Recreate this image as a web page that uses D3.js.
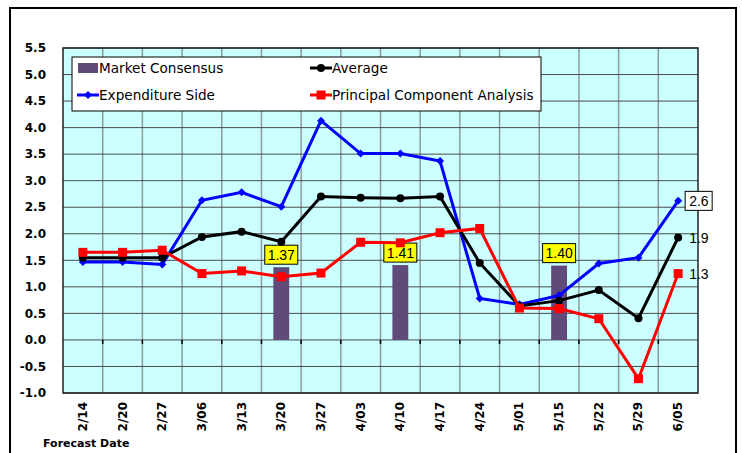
<!DOCTYPE html>
<html>
<head>
<meta charset="utf-8">
<script src="https://cdn.jsdelivr.net/npm/d3@7"></script>
<style>
  body { margin: 0; background: #fff; }
  svg { display: block; font-family: Verdana, "DejaVu Sans", sans-serif; }
</style>
</head>
<body>
<div id="chart"></div>
<script>
let width = 742
let height = 453

// data
let dates = ["2/14", "2/20", "2/27", "3/06", "3/13", "3/20", "3/27", "4/03",
  "4/10", "4/17", "4/24", "5/01", "5/15", "5/22", "5/29", "6/05"]
let expenditure = [1.47, 1.47, 1.42, 2.63, 2.78, 2.51, 4.13, 3.51, 3.51, 3.37, 0.78, 0.67, 0.84, 1.44, 1.55, 2.62]
let average = [1.55, 1.55, 1.55, 1.94, 2.04, 1.85, 2.70, 2.68, 2.67, 2.70, 1.45, 0.64, 0.74, 0.94, 0.41, 1.93]
let pca = [1.65, 1.65, 1.69, 1.25, 1.30, 1.19, 1.26, 1.84, 1.83, 2.02, 2.10, 0.60, 0.59, 0.40, -0.73, 1.25]
let consensus = [
  { date: "3/20", value: 1.37 },
  { date: "4/10", value: 1.41 },
  { date: "5/15", value: 1.40 }
]
let yTicks = [-1.0, -0.5, 0.0, 0.5, 1.0, 1.5, 2.0, 2.5, 3.0, 3.5, 4.0, 4.5, 5.0, 5.5]
let endLabels = ["2.6", "1.9", "1.3"]

let margin = { left: 63, right: 44, top: 48, bottom: 60 }

let svg = d3.select("#chart")
  .append("svg")
  .attr("width", width)
  .attr("height", height)

// outer frame
svg.append("rect")
  .attr("x", 10).attr("y", 8)
  .attr("width", 726).attr("height", 460)
  .attr("fill", "#fff")
  .attr("stroke", "#000")
  .attr("stroke-width", 2)

let x = d3.scaleBand()
  .domain(dates)
  .range([margin.left, width - margin.right])

let y = d3.scaleLinear()
  .domain([-1, 5.5])
  .range([height - margin.bottom, margin.top])

let px = d => x(d) + x.bandwidth() / 2

// plot background
svg.append("rect")
  .attr("x", x.range()[0]).attr("y", y(5.5))
  .attr("width", x.range()[1] - x.range()[0])
  .attr("height", y(-1) - y(5.5))
  .attr("fill", "#ccffff")

// vertical grid at category boundaries
svg.append("g")
  .selectAll("line")
  .data(dates.slice(1))
  .enter()
  .append("line")
    .attr("x1", d => x(d)).attr("x2", d => x(d))
    .attr("y1", y(5.5)).attr("y2", y(-1))
    .attr("stroke", "#8c9c9c")
    .attr("stroke-width", 1.5)

// horizontal grid
svg.append("g")
  .selectAll("line")
  .data(yTicks)
  .enter()
  .append("line")
    .attr("x1", x.range()[0]).attr("x2", x.range()[1])
    .attr("y1", d => y(d)).attr("y2", d => y(d))
    .attr("stroke", "#4a4a4a")
    .attr("stroke-width", 1)

// plot border
svg.append("rect")
  .attr("x", x.range()[0]).attr("y", y(5.5))
  .attr("width", x.range()[1] - x.range()[0])
  .attr("height", y(-1) - y(5.5))
  .attr("fill", "none")
  .attr("stroke", "#222")
  .attr("stroke-width", 1.5)

// small ticks on the zero line
svg.append("g")
  .selectAll("line")
  .data(dates.slice(1))
  .enter()
  .append("line")
    .attr("x1", d => x(d)).attr("x2", d => x(d))
    .attr("y1", y(0)).attr("y2", y(0) + 4)
    .attr("stroke", "#000")
    .attr("stroke-width", 1.5)

// y axis labels
svg.append("g")
  .selectAll("text")
  .data(yTicks)
  .enter()
  .append("text")
    .attr("x", 46)
    .attr("y", d => y(d))
    .attr("dy", "0.35em")
    .attr("text-anchor", "end")
    .style("font-size", "12px")
    .style("font-weight", "bold")
    .text(d => d.toFixed(1))

// x axis labels
svg.append("g")
  .selectAll("text")
  .data(dates)
  .enter()
  .append("text")
    .attr("transform", d => `translate(${px(d) + 4},${y(-1) + 9}) rotate(-90)`)
    .attr("text-anchor", "end")
    .style("font-size", "12px")
    .style("font-weight", "bold")
    .text(d => d)

svg.append("text")
  .attr("x", 43).attr("y", 447)
  .style("font-size", "11px")
  .style("font-weight", "bold")
  .text("Forecast Date")

// consensus bars
let barW = x.bandwidth() * 0.4
svg.append("g")
  .selectAll("rect")
  .data(consensus)
  .enter()
  .append("rect")
    .attr("x", d => px(d.date) - barW / 2)
    .attr("y", d => y(d.value))
    .attr("width", barW)
    .attr("height", d => y(0) - y(d.value))
    .attr("fill", "#5f4a7a")

let barLabels = svg.append("g")
  .selectAll("g")
  .data(consensus)
  .enter()
  .append("g")
    .attr("transform", d => `translate(${px(d.date)},${y(d.value) - 3})`)
barLabels.append("rect")
  .attr("x", -16.5).attr("y", -19)
  .attr("width", 33).attr("height", 19)
  .attr("fill", "#ffff00")
  .attr("stroke", "#000")
  .attr("stroke-width", 1)
barLabels.append("text")
  .attr("y", -4.5)
  .attr("text-anchor", "middle")
  .style("font-family", "'Liberation Sans', Arial, sans-serif")
  .style("font-size", "14px")
  .text(d => d.value.toFixed(2))

// lines
let line = d3.line()
  .x((d, i) => px(dates[i]))
  .y(d => y(d))

let series = [
  { name: "Expenditure Side", values: expenditure, color: "#0000ff", marker: "diamond" },
  { name: "Average", values: average, color: "#000000", marker: "circle" },
  { name: "Principal Component Analysis", values: pca, color: "#ff0000", marker: "square" }
]

function drawMarker(sel, type, color) {
  if (type === "circle") {
    sel.append("circle").attr("r", 4).attr("fill", color)
  } else if (type === "square") {
    sel.append("rect").attr("x", -4.5).attr("y", -4.5).attr("width", 9).attr("height", 9).attr("fill", color)
  } else {
    sel.append("path").attr("d", "M0,-4L4,0L0,4L-4,0Z").attr("fill", color)
  }
}

series.forEach(s => {
  svg.append("path")
    .datum(s.values)
    .attr("d", line)
    .attr("fill", "none")
    .attr("stroke", s.color)
    .attr("stroke-width", 3)
  svg.append("g")
    .selectAll("g")
    .data(s.values)
    .enter()
    .append("g")
      .attr("transform", (d, i) => `translate(${px(dates[i])},${y(d)})`)
      .each(function() { drawMarker(d3.select(this), s.marker, s.color) })
})

// end labels
let last = dates[dates.length - 1]
let endVals = [expenditure[15], average[15], pca[15]]
let ends = svg.append("g")
  .selectAll("g")
  .data(endVals)
  .enter()
  .append("g")
    .attr("transform", d => `translate(${px(last) + 9},${y(d)})`)
ends.filter((d, i) => i === 0)
  .append("rect")
    .attr("x", -2).attr("y", -9.5)
    .attr("width", 27).attr("height", 19)
    .attr("fill", "#fff")
    .attr("stroke", "#000")
ends.append("text")
  .attr("x", 2)
  .attr("dy", "0.36em")
  .style("font-family", "'Liberation Sans', Arial, sans-serif")
  .style("font-size", "14px")
  .text((d, i) => endLabels[i])

// legend
let legend = svg.append("g")
legend.append("rect")
  .attr("x", 72).attr("y", 57)
  .attr("width", 469).attr("height", 54)
  .attr("fill", "#fff")
  .attr("stroke", "#000")

let legendItems = [
  { name: "Market Consensus", type: "bar", color: "#5f4a7a", lx: 77, ly: 68 },
  { name: "Average", type: "circle", color: "#000000", lx: 310, ly: 68 },
  { name: "Expenditure Side", type: "diamond", color: "#0000ff", lx: 77, ly: 95 },
  { name: "Principal Component Analysis", type: "square", color: "#ff0000", lx: 310, ly: 95 }
]
let li = legend.selectAll("g.item")
  .data(legendItems)
  .enter()
  .append("g")
    .attr("transform", d => `translate(${d.lx},${d.ly})`)
li.each(function(d) {
  let g = d3.select(this)
  if (d.type === "bar") {
    g.append("rect").attr("x", 1).attr("y", -5).attr("width", 20).attr("height", 10).attr("fill", d.color)
  } else {
    g.append("line").attr("x1", 0).attr("x2", 22).attr("stroke", d.color).attr("stroke-width", 3)
    let m = g.append("g").attr("transform", "translate(11,0)")
    drawMarker(m, d.type, d.color)
  }
  g.append("text")
    .attr("x", 22)
    .attr("dy", "0.35em")
    .style("font-size", "13.6px")
    .text(d.name)
})
</script>
</body>
</html>
